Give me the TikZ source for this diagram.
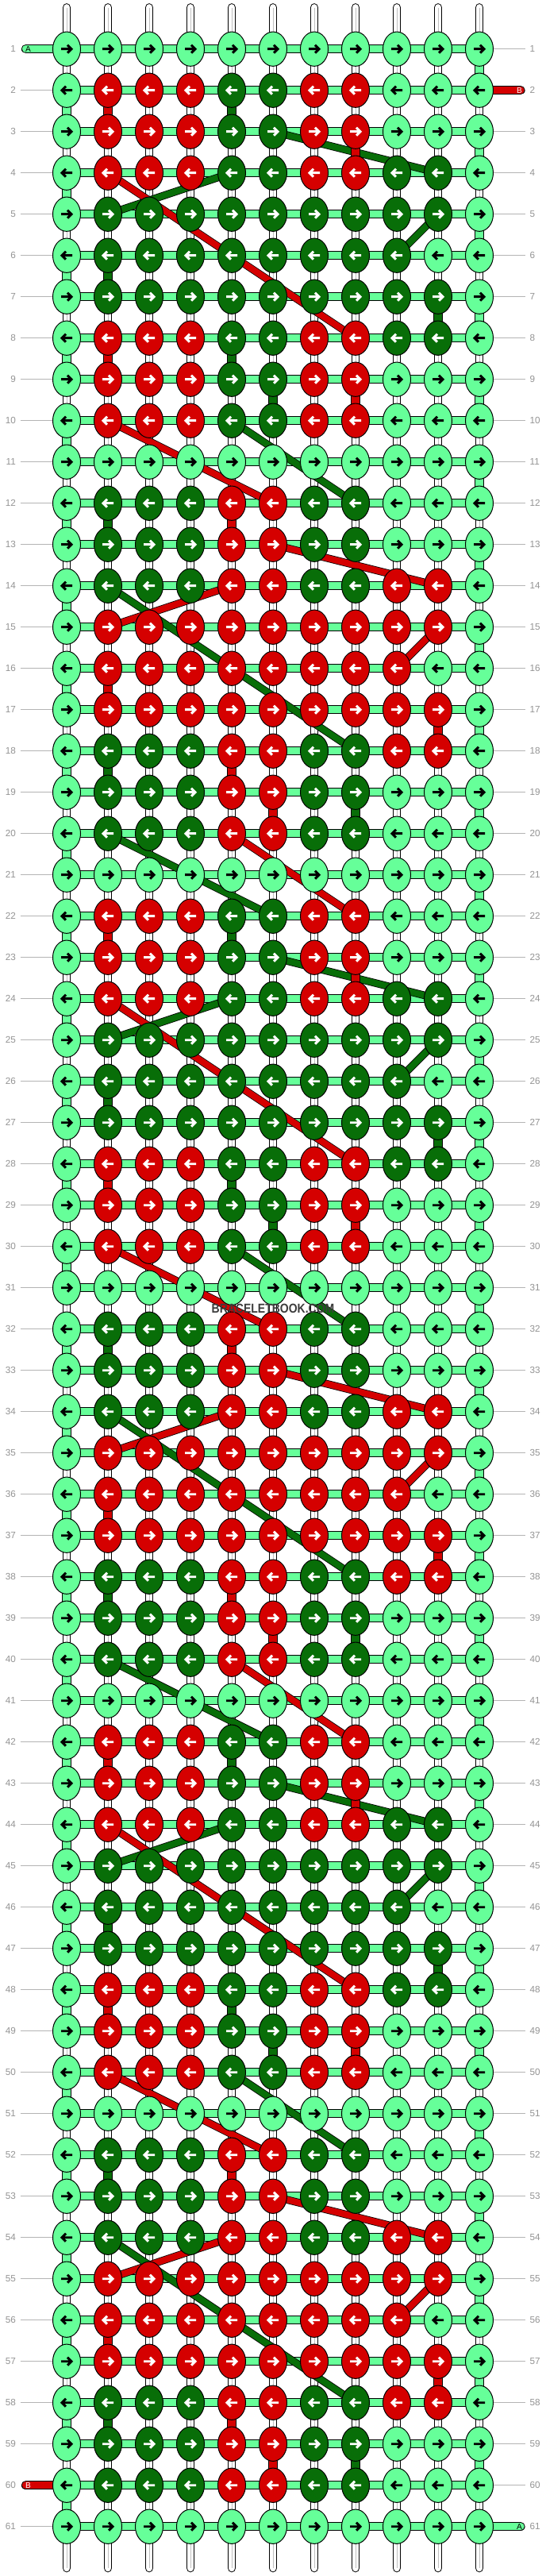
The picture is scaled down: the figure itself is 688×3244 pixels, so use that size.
\documentclass[tikz,border=0pt]{standalone}
\usepackage{fontspec}
\setmainfont{Liberation Sans}
\usetikzlibrary{shapes.geometric}
\definecolor{kL}{RGB}{102,255,153}
\definecolor{kG}{RGB}{8,110,8}
\definecolor{kR}{RGB}{213,0,0}
\colorlet{aL}{black}
\colorlet{aG}{white}
\colorlet{aR}{white}
\definecolor{labgray}{RGB}{148,148,148}
\definecolor{linegray}{RGB}{180,180,180}
\definecolor{wmgray}{RGB}{60,60,60}
\newcommand{\setknots}[2]{\expandafter\def\csname krow#1\endcsname{#2}}
\setknots{1}{L,L,L,L,L,L,L,L,L,L,L}
\setknots{2}{L,R,R,R,G,G,R,R,L,L,L}
\setknots{3}{L,R,R,R,G,G,R,R,L,L,L}
\setknots{4}{L,R,R,R,G,G,R,R,G,G,L}
\setknots{5}{L,G,G,G,G,G,G,G,G,G,L}
\setknots{6}{L,G,G,G,G,G,G,G,G,L,L}
\setknots{7}{L,G,G,G,G,G,G,G,G,G,L}
\setknots{8}{L,R,R,R,G,G,R,R,G,G,L}
\setknots{9}{L,R,R,R,G,G,R,R,L,L,L}
\setknots{10}{L,R,R,R,G,G,R,R,L,L,L}
\setknots{11}{L,L,L,L,L,L,L,L,L,L,L}
\setknots{12}{L,G,G,G,R,R,G,G,L,L,L}
\setknots{13}{L,G,G,G,R,R,G,G,L,L,L}
\setknots{14}{L,G,G,G,R,R,G,G,R,R,L}
\setknots{15}{L,R,R,R,R,R,R,R,R,R,L}
\setknots{16}{L,R,R,R,R,R,R,R,R,L,L}
\setknots{17}{L,R,R,R,R,R,R,R,R,R,L}
\setknots{18}{L,G,G,G,R,R,G,G,R,R,L}
\setknots{19}{L,G,G,G,R,R,G,G,L,L,L}
\setknots{20}{L,G,G,G,R,R,G,G,L,L,L}
\pgfdeclarelayer{strands}
\pgfdeclarelayer{bands}
\pgfdeclarelayer{floats}
\pgfdeclarelayer{links}
\pgfsetlayers{strands,bands,floats,links,main}
\tikzset{
  knot/.style={ellipse, draw=black, line width=0.75pt, minimum width=26.25pt, minimum height=32.5pt, inner sep=0pt},
  arrowline/.style={line width=2.2pt, line join=miter},
  strand/.style={draw=black, line width=0.75pt, double=white, double distance=6.5pt, line cap=round},
  strandmid/.style={draw=black!25, line width=0.5pt},
  rowband/.style={draw=black, line width=0.75pt, double=#1, double distance=7pt},
  floatband/.style={draw=black, line width=0.6pt, double=#1, double distance=6pt},
  rowlabel/.style={text=labgray, font=\fontsize{8.8}{10}\selectfont, inner sep=0pt, inner xsep=4pt},
  labline/.style={draw=linegray, line width=0.75pt},
  tabletter/.style={font=\fontsize{7.6}{9}\selectfont, inner sep=0pt},
  watermark/.style={text=wmgray, font=\bfseries\fontsize{12.2}{14}\selectfont, inner sep=0pt}
}

\begin{document}
\begin{tikzpicture}[x=0.75pt, y=-0.75pt]
    \useasboundingbox (0,0) rectangle (688,3244);

    % knots
    \foreach \kr in {1,...,61}{
        \pgfmathtruncatemacro{\p}{mod(\kr-1,20)+1}
        \pgfmathsetmacro{\y}{61.7+52*(\kr-1)}
        \pgfmathtruncatemacro{\dir}{ifthenelse(mod(\kr,2)==1,1,-1)}
        \edef\rowlist{\csname krow\p\endcsname}
        \foreach \col [count=\kc] in \rowlist {
            \pgfmathsetmacro{\x}{84+52*(\kc-1)}
            \node[knot, fill=k\col] (k-\kr-\kc) at (\x,\y) {};
            \draw[arrowline, draw=a\col, shift={(\x,\y)}, xscale=\dir] (-7,0) -- (5.5,0) (1,-5) -- (6,0) -- (1,5);
        }
    }

    % strands
    \begin{pgfonlayer}{strands}
        \fill[white] (0,0) rectangle (688,3244);
        \foreach \kc in {1,...,11}{
            \pgfmathsetmacro{\x}{84+52*(\kc-1)}
            \coordinate (t-\kc) at (\x,9.5);
            \coordinate (b-\kc) at (\x,3234);
            \draw[strand] (t-\kc) -- (b-\kc);
            \draw[strandmid] (t-\kc) -- (b-\kc);
        }
    \end{pgfonlayer}

    % rows and end tabs
    \begin{pgfonlayer}{bands}
        \foreach \kr in {1,...,61}
            \draw[rowband=kL] (k-\kr-1.center) -- (k-\kr-11.center);
        \coordinate (tab-a1) at (32.5,61.7);
        \coordinate (tab-b2) at (656,113.7);
        \coordinate (tab-b60) at (32.5,3129.7);
        \coordinate (tab-a61) at (656,3181.7);
        \draw[rowband=kL, line cap=round] (tab-a1) -- (k-1-1.center);
        \draw[rowband=kR, line cap=round] (k-2-11.center) -- (tab-b2);
        \draw[rowband=kR, line cap=round] (tab-b60) -- (k-60-1.center);
        \draw[rowband=kL, line cap=round] (k-61-11.center) -- (tab-a61);
    \end{pgfonlayer}

    % floats behind the knots
    \begin{pgfonlayer}{floats}
        \foreach \o in {0,20,40}{
            \foreach \ra/\ca/\rb/\cb/\fc in {3/6/4/10/G, 4/5/5/2/G, 4/2/8/8/R, 5/10/6/9/G,
                    10/2/12/6/R, 10/5/12/8/G, 13/6/14/10/R, 14/5/15/2/R, 14/2/18/8/G,
                    15/10/16/9/R, 20/2/22/6/G, 20/5/22/8/R}{
                \pgfmathtruncatemacro{\ua}{\ra+\o}
                \pgfmathtruncatemacro{\ub}{\rb+\o}
                \ifnum\ub<62
                    \draw[floatband=k\fc] (k-\ua-\ca.center) -- (k-\ub-\cb.center);
                \fi
            }
        }
    \end{pgfonlayer}

    % coloured links between rows
    \begin{pgfonlayer}{links}
        \foreach \kr in {1,...,60}{
            \pgfmathtruncatemacro{\nr}{\kr+1}
            \pgfmathtruncatemacro{\ec}{ifthenelse(mod(\kr,2)==1,11,1)}
            \draw[rowband=kL] (k-\kr-\ec.center) -- (k-\nr-\ec.center);
        }
        \foreach \o in {0,20,40}{
            \foreach \ra/\ca/\fc in {2/2/R, 2/5/G, 3/8/R, 6/2/G, 7/10/G, 8/2/R, 8/5/G,
                    9/6/G, 9/8/R, 12/2/G, 12/5/R, 16/2/R, 17/10/R, 18/2/G, 18/5/R,
                    19/6/R, 19/8/G}{
                \pgfmathtruncatemacro{\ua}{\ra+\o}
                \pgfmathtruncatemacro{\ub}{\ra+\o+1}
                \draw[rowband=k\fc] (k-\ua-\ca.center) -- (k-\ub-\ca.center);
            }
        }
    \end{pgfonlayer}

    % row numbers
    \foreach \kr in {1,...,61}{
        \pgfmathsetmacro{\y}{61.7+52*(\kr-1)}
        \node[rowlabel, anchor=east] (ll-\kr) at (25.5,\y) {\kr};
        \node[rowlabel, anchor=west] (rl-\kr) at (662,\y) {\kr};
        \ifnum\kr=1 \else\ifnum\kr=60 \else
            \draw[labline] (ll-\kr) -- (k-\kr-1);
        \fi\fi
        \ifnum\kr=2 \else\ifnum\kr=61 \else
            \draw[labline] (k-\kr-11) -- (rl-\kr);
        \fi\fi
    }

    \node[tabletter, text=black] (ta-1) at (35.5,61.7) {A};
    \node[tabletter, text=white] (tb-2) at (654.5,113.7) {B};
    \node[tabletter, text=white] (tb-60) at (35.5,3129.7) {B};
    \node[tabletter, text=black] (ta-61) at (654.5,3181.7) {A};

    \node[watermark] (wm) at (344,1647.5) {\scalebox{0.86}[1]{BRACELETBOOK.COM}};
\end{tikzpicture}
\end{document}
